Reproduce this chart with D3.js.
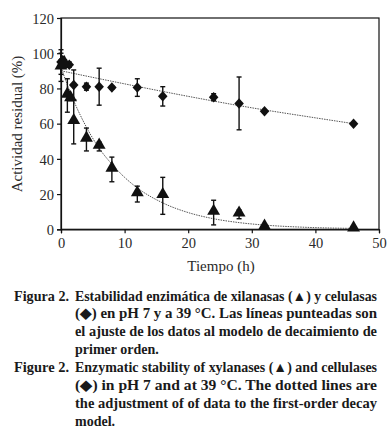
<!DOCTYPE html>
<html>
<head>
<meta charset="utf-8">
<script src="https://cdn.jsdelivr.net/npm/d3@7"></script>
<style>
  body { margin: 0; background: #fff; }
  svg text { font-family: "Liberation Serif", "Times New Roman", serif; }
  .tick text { font-size: 14.5px; fill: #2a2a2a; }
  .axis-label { font-size: 15px; fill: #2a2a2a; }
  .caption { font-size: 14px; font-weight: bold; fill: #1a1a1a; }
</style>
</head>
<body>
<svg id="svg1" width="388" height="430"></svg>
<script>
const svg1 = d3.select('#svg1');

// cellulases (diamonds)
const celTimes = [0, 0.25, 0.6, 1.3, 2, 4, 6, 8, 12, 16, 24, 28, 32, 46];
const celValues = [95, 96, 94, 93.5, 82, 81, 81, 80.5, 80.5, 75.5, 75, 71.5, 67, 60];
const celErrors = [7, 2, 2, 1.5, 8.5, 2, 10.5, 1, 5, 5.5, 2, 15, 1, 0.5];

// xylanases (triangles)
const xylTimes = [0, 0.5, 1, 1.5, 2, 4, 6, 8, 12, 16, 24, 28, 32, 46];
const xylValues = [92, 94, 76, 74, 61, 51, 47, 34, 20, 19, 9.5, 8.5, 1, 0];
const xylErrors = [8, 2, 9.5, 1, 12.5, 6.5, 2.5, 7, 4.5, 10.5, 7, 2.5, 0, 0];

// dotted fitted lines
const celFit = [[0, 90], [10, 82.6], [20, 75.5], [30, 69], [40, 63.3], [46, 60]];
const xylFit = [[0, 92], [1, 82], [2, 73], [4, 58], [6, 46], [8, 37], [10, 29.5], [12, 23.5],
  [16, 15], [20, 9.5], [24, 6], [28, 3.8], [32, 2.4], [38, 1.2], [46, 0.5]];

const xTicks = [0, 10, 20, 30, 40, 50];
const yTicks = [0, 20, 40, 60, 80, 100, 120];

const captionLines = [
  { label: 'Figura 2.', text: 'Estabilidad enzimática de xilanasas (▲) y celulasas', justify: true },
  { text: '(◆) en pH 7 y a 39 °C. Las líneas punteadas son', justify: true },
  { text: 'el ajuste de los datos al modelo de decaimiento de', justify: true },
  { text: 'primer orden.', justify: false },
  { label: 'Figure 2.', text: 'Enzymatic stability of xylanases (▲) and cellulases', justify: true },
  { text: '(◆) in pH 7 and at 39 °C. The dotted lines are', justify: true },
  { text: 'the adjustment of of data to the first-order decay', justify: true },
  { text: 'model.', justify: false }
];

const x0 = 61, x1 = 379, yTop = 18, yBot = 229.3;

const xScale = d3.scaleLinear().domain([0, 50]).range([x0, x1]);
const yScale = d3.scaleLinear().domain([0, 120]).range([yBot, yTop]);

// frame
svg1.append('rect')
  .attr('x', x0).attr('y', yTop)
  .attr('width', x1 - x0).attr('height', yBot - yTop)
  .attr('fill', 'none').attr('stroke', '#111').attr('stroke-width', 1.2);

const yAxisG = svg1.append('g')
  .attr('transform', `translate(${x0},0)`)
  .call(d3.axisLeft(yScale).tickValues(yTicks).tickSize(4).tickPadding(3));
const xAxisG = svg1.append('g')
  .attr('transform', `translate(0,${yBot})`)
  .call(d3.axisBottom(xScale).tickValues(xTicks).tickSize(4).tickPadding(3));
[yAxisG, xAxisG].forEach(a => {
  a.select('.domain').attr('stroke', '#111').attr('stroke-width', 1.2);
  a.selectAll('.tick line').attr('stroke', '#111').attr('stroke-width', 1.2);
  a.attr('font-family', null).attr('font-size', null);
});
yAxisG.selectAll('.tick text').attr('dy', '0.36em');
xAxisG.selectAll('.tick text').attr('dy', '0.8em');

svg1.append('text')
  .attr('class', 'axis-label')
  .attr('transform', 'translate(22,124) rotate(-90)')
  .attr('text-anchor', 'middle')
  .text('Actividad residual (%)');

svg1.append('text')
  .attr('class', 'axis-label')
  .attr('x', 221).attr('y', 271)
  .attr('text-anchor', 'middle')
  .text('Tiempo (h)');

// fit lines
const lineGenerator = d3.line()
  .x(d => xScale(d[0]))
  .y(d => yScale(d[1]))
  .curve(d3.curveMonotoneX);

[celFit, xylFit].forEach(f => {
  svg1.append('path')
    .attr('d', lineGenerator(f))
    .attr('fill', 'none')
    .attr('stroke', '#555')
    .attr('stroke-width', 1)
    .attr('stroke-dasharray', '1.5,1');
});

// error bars
const drawErrors = (times, values, errors) => {
  const data = times.map((t, i) => ({ t, v: values[i], e: errors[i] })).filter(d => d.e > 0.8);
  const g = svg1.append('g').attr('stroke', '#111').attr('stroke-width', 1.4);
  g.selectAll('.bar').data(data).enter().append('line')
    .attr('x1', d => xScale(d.t)).attr('x2', d => xScale(d.t))
    .attr('y1', d => yScale(d.v - d.e)).attr('y2', d => yScale(d.v + d.e));
  [-1, 1].forEach(s => {
    g.selectAll('.cap' + s).data(data).enter().append('line')
      .attr('x1', d => xScale(d.t) - 2.5).attr('x2', d => xScale(d.t) + 2.5)
      .attr('y1', d => yScale(d.v + s * d.e)).attr('y2', d => yScale(d.v + s * d.e));
  });
};
drawErrors(celTimes, celValues, celErrors);
drawErrors(xylTimes, xylValues, xylErrors);

// markers
const diamond = d3.symbol().type(d3.symbolDiamond2).size(58);
const triangle = d3.symbol().type(d3.symbolTriangle).size(72);

svg1.append('g').selectAll('path').data(celTimes).enter().append('path')
  .attr('d', diamond)
  .attr('transform', (d, i) => `translate(${xScale(d)},${yScale(celValues[i])}) scale(1,1.1)`)
  .attr('fill', '#111');

svg1.append('g').selectAll('path').data(xylTimes).enter().append('path')
  .attr('d', triangle)
  .attr('transform', (d, i) => `translate(${xScale(d)},${yScale(xylValues[i]) - 1.5})`)
  .attr('fill', '#111');

// caption
const capTop = 300.5, capLeft = 75, capRight = 377, capStep = 17.9;
captionLines.forEach((l, i) => {
  const yy = capTop + i * capStep;
  if (l.label) {
    svg1.append('text').attr('class', 'caption')
      .attr('x', 14).attr('y', yy)
      .attr('textLength', 55).attr('lengthAdjust', 'spacingAndGlyphs')
      .text(l.label);
  }
  const t = svg1.append('text').attr('class', 'caption')
    .attr('x', capLeft).attr('y', yy)
    .text(l.text);
  if (l.justify) {
    t.attr('textLength', capRight - capLeft).attr('lengthAdjust', 'spacingAndGlyphs');
  }
});
</script>
</body>
</html>
